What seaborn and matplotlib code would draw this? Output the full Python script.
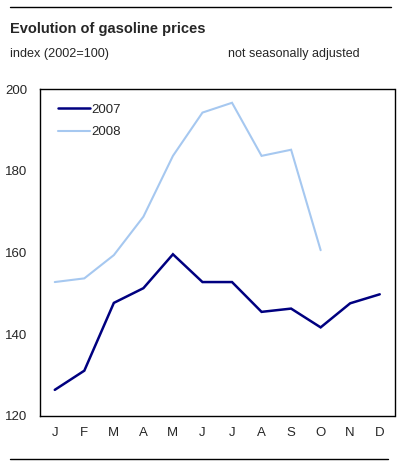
import matplotlib
matplotlib.use("Agg")
import matplotlib.pyplot as plt
import seaborn as sns
import pandas as pd
from matplotlib.lines import Line2D

months = ["J", "F", "M", "A", "M", "J", "J", "A", "S", "O", "N", "D"]
values_2007 = [126.4, 131.1, 147.7, 151.3, 159.6, 152.8, 152.8, 145.5, 146.3, 141.7, 147.6, 149.8]
values_2008 = [152.8, 153.7, 159.4, 168.8, 183.7, 194.3, 196.7, 183.7, 185.2, 160.6]
yticks = [120, 140, 160, 180, 200]

sns.set_style("white")
plt.rcParams['font.family'] = ['Liberation Sans', 'DejaVu Sans']

rows = []
for i, v in enumerate(values_2007):
    rows.append({"month": i, "value": v, "year": "2007"})
for i, v in enumerate(values_2008):
    rows.append({"month": i, "value": v, "year": "2008"})
df = pd.DataFrame(rows)

palette = {"2007": "#000080", "2008": "#a6c8f0"}

fig = plt.figure(figsize=(4.01, 4.65), dpi=100)
ax = fig.add_axes([40 / 401, 1 - 416 / 465, (394.5 - 40) / 401, (416 - 89.3) / 465])

sns.lineplot(data=df, x="month", y="value", hue="year", palette=palette, ax=ax,
             legend=False, estimator=None, sort=False)
for line, lw in zip(ax.lines, [1.8, 1.5]):
    line.set_linewidth(lw)
    line.set_solid_joinstyle("miter")

ax.set_xlim(-0.5, 11.5)
ax.set_ylim(120, 200)
ax.set_yticks(yticks)
ax.set_yticklabels([str(t) for t in yticks], fontsize=9.5)
ax.tick_params(axis="y", length=0, pad=9)

ax.set_xticks(range(12))
ax.set_xticklabels(months, fontsize=9.5)
ax.tick_params(axis="x", which="major", length=0, pad=8)
ax.set_xticks([i + 0.5 for i in range(11)], minor=True)
ax.tick_params(axis="x", which="minor", direction="in", length=3.5, width=0.8, color="black")
ax.set_xlabel("")
ax.set_ylabel("")

for s in ax.spines.values():
    s.set_visible(True)
    s.set_color("black")
    s.set_linewidth(1.0)

handles = [Line2D([], [], color=palette["2007"], lw=1.8),
           Line2D([], [], color=palette["2008"], lw=1.5)]
leg = ax.legend(handles, ["2007", "2008"], loc="upper left", frameon=False,
                fontsize=9.5, handlelength=2.4, handletextpad=0.15,
                labelspacing=0.8, borderaxespad=0.4, bbox_to_anchor=(0.021, 0.989))

fig.add_artist(Line2D([10 / 401, 391 / 401], [1 - 7 / 465, 1 - 7 / 465], color="black", lw=1.0))
fig.add_artist(Line2D([10 / 401, 388 / 401], [1 - 458.5 / 465, 1 - 458.5 / 465], color="black", lw=1.0))

fig.text(10 / 401, 1 - 28.5 / 465, "Evolution of gasoline prices", fontsize=10.5,
         fontweight="bold", va="center", ha="left")
fig.text(10 / 401, 1 - 54 / 465, "index (2002=100)", fontsize=9.1, va="center", ha="left")
fig.text(228 / 401, 1 - 54 / 465, "not seasonally adjusted", fontsize=9.0, va="center", ha="left")

fig.savefig("out.png", dpi=100)
